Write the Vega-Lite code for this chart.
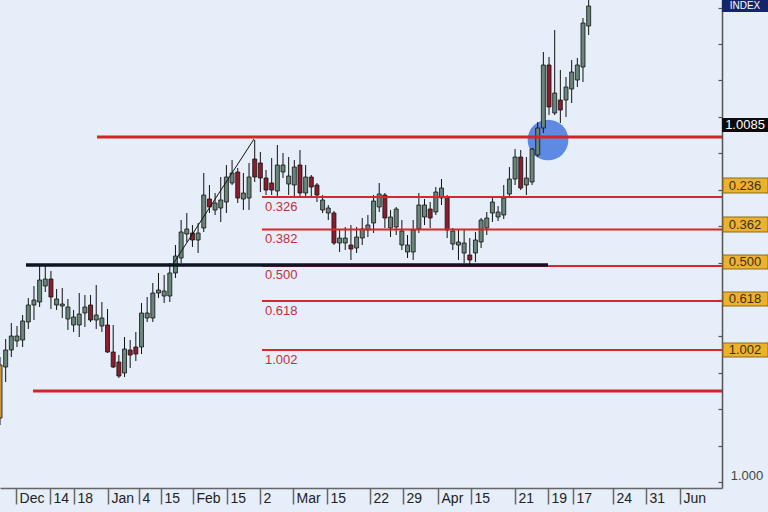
{
"$schema": "https://vega.github.io/schema/vega-lite/v6.json",
"width": 722, "height": 488,
"autosize": {"type": "none"},
"padding": {"left": 0, "top": 0, "right": 46, "bottom": 24},
"background": "#e6eef9",
"config": {"view": {"stroke": null}, "font": "Liberation Sans",
"axisX": {"tickCount": 60, "labelOverlap": false, "labelBound": false, "labelFlush": false, "labelSeparation": 0, "tickSize": 16, "tickColor": "#666", "tickWidth": 1.5, "domainColor": "#666", "domainWidth": 1.5,
"labelAlign": "left", "labelBaseline": "top", "labelPadding": -13, "labelOffset": 3, "labelFontSize": 14, "labelColor": "#222", "labelFont": "Liberation Sans", "grid": false},
"axisY": {"tickCount": 60, "labels": false, "tickSize": -4, "tickColor": "#555", "tickWidth": 1.2, "domainColor": "#555", "domainWidth": 1.5, "grid": false}},
"datasets": {
"candles": [
{"i":0,"o":1.002875,"h":1.003075,"l":1.001375,"c":1.001550,"d":"mark"},
{"i":1,"o":1.002825,"h":1.003525,"l":1.002450,"c":1.003250,"d":"up"},
{"i":2,"o":1.003250,"h":1.003925,"l":1.003075,"c":1.003600,"d":"up"},
{"i":3,"o":1.003475,"h":1.003850,"l":1.003325,"c":1.003600,"d":"up"},
{"i":4,"o":1.003500,"h":1.004125,"l":1.003325,"c":1.003975,"d":"up"},
{"i":5,"o":1.003950,"h":1.004550,"l":1.003775,"c":1.004375,"d":"up"},
{"i":6,"o":1.004375,"h":1.004850,"l":1.004000,"c":1.004500,"d":"up"},
{"i":7,"o":1.004450,"h":1.005375,"l":1.004325,"c":1.005000,"d":"up"},
{"i":8,"o":1.004850,"h":1.005375,"l":1.004700,"c":1.005025,"d":"up"},
{"i":9,"o":1.005025,"h":1.005225,"l":1.004275,"c":1.004575,"d":"down"},
{"i":10,"o":1.004375,"h":1.004775,"l":1.004250,"c":1.004525,"d":"up"},
{"i":11,"o":1.004350,"h":1.004800,"l":1.004050,"c":1.004400,"d":"up"},
{"i":12,"o":1.004025,"h":1.004525,"l":1.003750,"c":1.004325,"d":"up"},
{"i":13,"o":1.003875,"h":1.004250,"l":1.003700,"c":1.004075,"d":"up"},
{"i":14,"o":1.003875,"h":1.004675,"l":1.003575,"c":1.004150,"d":"up"},
{"i":15,"o":1.004175,"h":1.004625,"l":1.003825,"c":1.004325,"d":"up"},
{"i":16,"o":1.004375,"h":1.004625,"l":1.003950,"c":1.004000,"d":"down"},
{"i":17,"o":1.004000,"h":1.004875,"l":1.003775,"c":1.004125,"d":"up"},
{"i":18,"o":1.003850,"h":1.004450,"l":1.003700,"c":1.004050,"d":"up"},
{"i":19,"o":1.003875,"h":1.004275,"l":1.003175,"c":1.003200,"d":"down"},
{"i":20,"o":1.003200,"h":1.003875,"l":1.002800,"c":1.002825,"d":"down"},
{"i":21,"o":1.002950,"h":1.003125,"l":1.002550,"c":1.002600,"d":"down"},
{"i":22,"o":1.002675,"h":1.003575,"l":1.002575,"c":1.003275,"d":"up"},
{"i":23,"o":1.003250,"h":1.003500,"l":1.002800,"c":1.003125,"d":"down"},
{"i":24,"o":1.003325,"h":1.003700,"l":1.002975,"c":1.003150,"d":"down"},
{"i":25,"o":1.003325,"h":1.004425,"l":1.003150,"c":1.004175,"d":"up"},
{"i":26,"o":1.004050,"h":1.004575,"l":1.003950,"c":1.004175,"d":"up"},
{"i":27,"o":1.004050,"h":1.004925,"l":1.003950,"c":1.004675,"d":"up"},
{"i":28,"o":1.004675,"h":1.005175,"l":1.004550,"c":1.004750,"d":"up"},
{"i":29,"o":1.004600,"h":1.005125,"l":1.004425,"c":1.004725,"d":"up"},
{"i":30,"o":1.004600,"h":1.005425,"l":1.004450,"c":1.005175,"d":"up"},
{"i":31,"o":1.005175,"h":1.005875,"l":1.005050,"c":1.005600,"d":"up"},
{"i":32,"o":1.005550,"h":1.006500,"l":1.005425,"c":1.006200,"d":"up"},
{"i":33,"o":1.006150,"h":1.006675,"l":1.005950,"c":1.006275,"d":"up"},
{"i":34,"o":1.006175,"h":1.006375,"l":1.005825,"c":1.006000,"d":"down"},
{"i":35,"o":1.006000,"h":1.006425,"l":1.005675,"c":1.006175,"d":"up"},
{"i":36,"o":1.006300,"h":1.007675,"l":1.006200,"c":1.007125,"d":"up"},
{"i":37,"o":1.007025,"h":1.007375,"l":1.006675,"c":1.006825,"d":"down"},
{"i":38,"o":1.006750,"h":1.007175,"l":1.006625,"c":1.006925,"d":"up"},
{"i":39,"o":1.006800,"h":1.007575,"l":1.006450,"c":1.007000,"d":"up"},
{"i":40,"o":1.006950,"h":1.007875,"l":1.006675,"c":1.007575,"d":"up"},
{"i":41,"o":1.007425,"h":1.008000,"l":1.007375,"c":1.007675,"d":"up"},
{"i":42,"o":1.007700,"h":1.007800,"l":1.006925,"c":1.007050,"d":"down"},
{"i":43,"o":1.007025,"h":1.007675,"l":1.006750,"c":1.007175,"d":"up"},
{"i":44,"o":1.007050,"h":1.007925,"l":1.006750,"c":1.007575,"d":"up"},
{"i":45,"o":1.008025,"h":1.008500,"l":1.007450,"c":1.007575,"d":"down"},
{"i":46,"o":1.007925,"h":1.008200,"l":1.007200,"c":1.007550,"d":"down"},
{"i":47,"o":1.007550,"h":1.007750,"l":1.007125,"c":1.007250,"d":"down"},
{"i":48,"o":1.007425,"h":1.008050,"l":1.007125,"c":1.007250,"d":"down"},
{"i":49,"o":1.007225,"h":1.008375,"l":1.007075,"c":1.007875,"d":"up"},
{"i":50,"o":1.007700,"h":1.008175,"l":1.007550,"c":1.007875,"d":"up"},
{"i":51,"o":1.007400,"h":1.008075,"l":1.007125,"c":1.007600,"d":"up"},
{"i":52,"o":1.007375,"h":1.008000,"l":1.007075,"c":1.007825,"d":"up"},
{"i":53,"o":1.007875,"h":1.008250,"l":1.007075,"c":1.007175,"d":"down"},
{"i":54,"o":1.007175,"h":1.007875,"l":1.007050,"c":1.007575,"d":"up"},
{"i":55,"o":1.007575,"h":1.007625,"l":1.007050,"c":1.007325,"d":"down"},
{"i":56,"o":1.007375,"h":1.007425,"l":1.006950,"c":1.007125,"d":"down"},
{"i":57,"o":1.006750,"h":1.007125,"l":1.006675,"c":1.007000,"d":"up"},
{"i":58,"o":1.006675,"h":1.006875,"l":1.006500,"c":1.006800,"d":"up"},
{"i":59,"o":1.006675,"h":1.006725,"l":1.005875,"c":1.005925,"d":"down"},
{"i":60,"o":1.005925,"h":1.006250,"l":1.005700,"c":1.006050,"d":"up"},
{"i":61,"o":1.005925,"h":1.006325,"l":1.005750,"c":1.006050,"d":"up"},
{"i":62,"o":1.005875,"h":1.006375,"l":1.005500,"c":1.005775,"d":"down"},
{"i":63,"o":1.005800,"h":1.006325,"l":1.005675,"c":1.006075,"d":"up"},
{"i":64,"o":1.006050,"h":1.006550,"l":1.005875,"c":1.006275,"d":"up"},
{"i":65,"o":1.006250,"h":1.006625,"l":1.006075,"c":1.006375,"d":"up"},
{"i":66,"o":1.006425,"h":1.007125,"l":1.006175,"c":1.006975,"d":"up"},
{"i":67,"o":1.006825,"h":1.007425,"l":1.006700,"c":1.007150,"d":"up"},
{"i":68,"o":1.007125,"h":1.007175,"l":1.006300,"c":1.006550,"d":"down"},
{"i":69,"o":1.006300,"h":1.006750,"l":1.006075,"c":1.006575,"d":"up"},
{"i":70,"o":1.006325,"h":1.006825,"l":1.006125,"c":1.006775,"d":"up"},
{"i":71,"o":1.005875,"h":1.006500,"l":1.005750,"c":1.006225,"d":"up"},
{"i":72,"o":1.005700,"h":1.006125,"l":1.005550,"c":1.005875,"d":"up"},
{"i":73,"o":1.005700,"h":1.006500,"l":1.005500,"c":1.006250,"d":"up"},
{"i":74,"o":1.006275,"h":1.007175,"l":1.006175,"c":1.006875,"d":"up"},
{"i":75,"o":1.006575,"h":1.007025,"l":1.006375,"c":1.006875,"d":"up"},
{"i":76,"o":1.006775,"h":1.006950,"l":1.006300,"c":1.006550,"d":"down"},
{"i":77,"o":1.006700,"h":1.007325,"l":1.006625,"c":1.007200,"d":"up"},
{"i":78,"o":1.007050,"h":1.007525,"l":1.006875,"c":1.007300,"d":"up"},
{"i":79,"o":1.007075,"h":1.007125,"l":1.006050,"c":1.006250,"d":"down"},
{"i":80,"o":1.005900,"h":1.006300,"l":1.005750,"c":1.006225,"d":"up"},
{"i":81,"o":1.005875,"h":1.006250,"l":1.005500,"c":1.005950,"d":"up"},
{"i":82,"o":1.005675,"h":1.006250,"l":1.005425,"c":1.005925,"d":"up"},
{"i":83,"o":1.005625,"h":1.006050,"l":1.005325,"c":1.005500,"d":"down"},
{"i":84,"o":1.005675,"h":1.006200,"l":1.005450,"c":1.006000,"d":"up"},
{"i":85,"o":1.005950,"h":1.006550,"l":1.005800,"c":1.006500,"d":"up"},
{"i":86,"o":1.006300,"h":1.006700,"l":1.006125,"c":1.006550,"d":"up"},
{"i":87,"o":1.006675,"h":1.007050,"l":1.006450,"c":1.006950,"d":"up"},
{"i":88,"o":1.006575,"h":1.006850,"l":1.006475,"c":1.006700,"d":"up"},
{"i":89,"o":1.006625,"h":1.007375,"l":1.006525,"c":1.007050,"d":"up"},
{"i":90,"o":1.007150,"h":1.007825,"l":1.007075,"c":1.007525,"d":"up"},
{"i":91,"o":1.007525,"h":1.008275,"l":1.007375,"c":1.008075,"d":"up"},
{"i":92,"o":1.008075,"h":1.008250,"l":1.007250,"c":1.007300,"d":"down"},
{"i":93,"o":1.007375,"h":1.008075,"l":1.007125,"c":1.007550,"d":"up"},
{"i":94,"o":1.007450,"h":1.008300,"l":1.007375,"c":1.008275,"d":"up"},
{"i":95,"o":1.008125,"h":1.008950,"l":1.008075,"c":1.008800,"d":"up"},
{"i":96,"o":1.008800,"h":1.010700,"l":1.008675,"c":1.010375,"d":"up"},
{"i":97,"o":1.010375,"h":1.010575,"l":1.009125,"c":1.009325,"d":"down"},
{"i":98,"o":1.009175,"h":1.011250,"l":1.009125,"c":1.009675,"d":"up"},
{"i":99,"o":1.009500,"h":1.010250,"l":1.008925,"c":1.009250,"d":"down"},
{"i":100,"o":1.009500,"h":1.010075,"l":1.009075,"c":1.009825,"d":"up"},
{"i":101,"o":1.009775,"h":1.010500,"l":1.009425,"c":1.010200,"d":"up"},
{"i":102,"o":1.010000,"h":1.010550,"l":1.009825,"c":1.010375,"d":"up"},
{"i":103,"o":1.010325,"h":1.011550,"l":1.009950,"c":1.011425,"d":"up"},
{"i":104,"o":1.011350,"h":1.012000,"l":1.011125,"c":1.011850,"d":"up"}
],
"thickRed": [
{"i":17.14,"i2":127.56,"p":1.008575},
{"i":5.83,"i2":127.56,"p":1.002225}
],
"fibLines": [
{"i":46.29,"i2":127.56,"p":1.007075},
{"i":46.29,"i2":127.56,"p":1.0062625},
{"i":46.29,"i2":127.56,"p":1.005350},
{"i":46.29,"i2":127.56,"p":1.004475},
{"i":46.29,"i2":127.56,"p":1.003250}
],
"blackLine": [{"i":4.59,"i2":96.82,"p":1.005375}],
"trend": [{"i":30.57,"i2":44.88,"p":1.005400,"p2":1.008525}],
"circle": [{"i":96.82,"p":1.0085}],
"fibText": [
{"i":46.82,"p":1.006825,"t":"0.326"},
{"i":46.82,"p":1.006025,"t":"0.382"},
{"i":46.82,"p":1.005125,"t":"0.500"},
{"i":46.82,"p":1.004225,"t":"0.618"},
{"i":46.82,"p":1.003000,"t":"1.002"}
],
"goldBoxes": [
{"i":127.74,"i2":135.69,"p":1.007550,"p2":1.007175,"pt":1.0073625,"t":"0.236"},
{"i":127.74,"i2":135.69,"p":1.006575,"p2":1.006200,"pt":1.0063875,"t":"0.362"},
{"i":127.74,"i2":135.69,"p":1.005625,"p2":1.005275,"pt":1.005450,"t":"0.500"},
{"i":127.74,"i2":135.69,"p":1.004700,"p2":1.004350,"pt":1.004525,"t":"0.618"},
{"i":127.74,"i2":135.69,"p":1.003425,"p2":1.003075,"pt":1.003250,"t":"1.002"}
],
"priceBox": [{"i":127.56,"i2":135.69,"p":1.009050,"p2":1.008700,"pt":1.008875,"t":"1.0085"}],
"indexBox": [{"i":127.56,"i2":135.69,"p":1.012000,"p2":1.011700,"pt":1.011850,"t":"INDEX"}],
"baseText": [{"i":131.98,"p":1.000100,"t":"1.000"}]
},
"layer": [
{
"data": {"name": "circle"},
"mark": {"type": "point", "filled": true, "size": 1660, "color": "#4f7ee0", "opacity": 0.9},
"encoding": {
"x": {"field": "i", "type": "quantitative", "title": null, "scale": {"domain": [0, 127.56], "nice": false, "zero": false, "padding": 0},
"axis": {"values": [2.83,8.83,13.07,19.08,24.56,28.45,34.1,40.1,45.94,51.77,57.77,65.37,71.2,77.39,83.22,91,96.82,101.24,108.3,114.13,120.14],
"tickCount": 60,
"labelExpr": "['Dec','14','18','Jan','4','15','Feb','15','2','Mar','15','22','29','Apr','15','21','19','17','24','31','Jun'][indexof([2.83,8.83,13.07,19.08,24.56,28.45,34.1,40.1,45.94,51.77,57.77,65.37,71.2,77.39,83.22,91,96.82,101.24,108.3,114.13,120.14], datum.value)]",
"labelOverlap": false, "title": null}},
"y": {"field": "p", "type": "quantitative", "title": null, "scale": {"domain": [0.9998, 1.012], "nice": false, "zero": false, "padding": 0},
"axis": {"orient": "right", "tickCount": 60, "values": [1.0118125,1.0109,1.0099875,1.009075,1.0081625,1.00725,1.0063375,1.005425,1.0045125,1.0036,1.0026875,1.001775,1.0008625,0.99995], "title": null}}
}
},
{
"data": {"name": "candles"},
"mark": {"type": "rule", "color": "#111", "strokeWidth": 1},
"encoding": {
"x": {"field": "i", "type": "quantitative", "title": null},
"y": {"field": "h", "type": "quantitative", "title": null},
"y2": {"field": "l"}
}
},
{
"data": {"name": "candles"},
"mark": {"type": "bar", "size": 4, "stroke": "#111", "strokeWidth": 0.8},
"encoding": {
"x": {"field": "i", "type": "quantitative", "title": null},
"y": {"field": "o", "type": "quantitative", "title": null},
"y2": {"field": "c"},
"color": {"field": "d", "type": "nominal", "legend": null,
"scale": {"domain": ["up", "down", "mark"], "range": ["#6a857a", "#8b1e2e", "#c9973f"]}}
}
},
{
"data": {"name": "fibLines"},
"mark": {"type": "rule", "color": "#d8262a", "strokeWidth": 2},
"encoding": {
"x": {"field": "i", "type": "quantitative", "title": null},
"x2": {"field": "i2"},
"y": {"field": "p", "type": "quantitative", "title": null}
}
},
{
"data": {"name": "thickRed"},
"mark": {"type": "rule", "color": "#d42424", "strokeWidth": 3},
"encoding": {
"x": {"field": "i", "type": "quantitative", "title": null},
"x2": {"field": "i2"},
"y": {"field": "p", "type": "quantitative", "title": null}
}
},
{
"data": {"name": "blackLine"},
"mark": {"type": "rule", "color": "#0d1525", "strokeWidth": 3.5},
"encoding": {
"x": {"field": "i", "type": "quantitative", "title": null},
"x2": {"field": "i2"},
"y": {"field": "p", "type": "quantitative", "title": null}
}
},
{
"data": {"name": "trend"},
"mark": {"type": "rule", "color": "#111", "strokeWidth": 1},
"encoding": {
"x": {"field": "i", "type": "quantitative", "title": null},
"x2": {"field": "i2"},
"y": {"field": "p", "type": "quantitative", "title": null},
"y2": {"field": "p2"}
}
},
{
"data": {"name": "fibText"},
"mark": {"type": "text", "align": "left", "baseline": "middle", "fontSize": 13, "color": "#c0303a", "font": "Liberation Sans"},
"encoding": {
"x": {"field": "i", "type": "quantitative", "title": null},
"y": {"field": "p", "type": "quantitative", "title": null},
"text": {"field": "t"}
}
},
{
"data": {"name": "goldBoxes"},
"mark": {"type": "rect", "fill": "#ecb22e", "stroke": "#8a6a1a", "strokeWidth": 1},
"encoding": {
"x": {"field": "i", "type": "quantitative", "title": null},
"x2": {"field": "i2"},
"y": {"field": "p", "type": "quantitative", "title": null},
"y2": {"field": "p2"}
}
},
{
"data": {"name": "goldBoxes"},
"mark": {"type": "text", "align": "center", "baseline": "middle", "fontSize": 13, "color": "#3a3020", "font": "Liberation Sans", "dx": 22},
"encoding": {
"x": {"field": "i", "type": "quantitative", "title": null},
"y": {"field": "pt", "type": "quantitative", "title": null},
"text": {"field": "t"}
}
},
{
"data": {"name": "priceBox"},
"mark": {"type": "rect", "fill": "#0c0c0c"},
"encoding": {
"x": {"field": "i", "type": "quantitative", "title": null},
"x2": {"field": "i2"},
"y": {"field": "p", "type": "quantitative", "title": null},
"y2": {"field": "p2"}
}
},
{
"data": {"name": "priceBox"},
"mark": {"type": "text", "align": "center", "baseline": "middle", "fontSize": 13, "color": "#ffffff", "font": "Liberation Sans", "dx": 23},
"encoding": {
"x": {"field": "i", "type": "quantitative", "title": null},
"y": {"field": "pt", "type": "quantitative", "title": null},
"text": {"field": "t"}
}
},
{
"data": {"name": "indexBox"},
"mark": {"type": "rect", "fill": "#16256a"},
"encoding": {
"x": {"field": "i", "type": "quantitative", "title": null},
"x2": {"field": "i2"},
"y": {"field": "p", "type": "quantitative", "title": null},
"y2": {"field": "p2"}
}
},
{
"data": {"name": "indexBox"},
"mark": {"type": "text", "align": "center", "baseline": "middle", "fontSize": 10, "color": "#ffffff", "font": "Liberation Sans", "dx": 23},
"encoding": {
"x": {"field": "i", "type": "quantitative", "title": null},
"y": {"field": "pt", "type": "quantitative", "title": null},
"text": {"field": "t"}
}
},
{
"data": {"name": "baseText"},
"mark": {"type": "text", "align": "center", "baseline": "middle", "fontSize": 13, "color": "#444", "font": "Liberation Sans"},
"encoding": {
"x": {"field": "i", "type": "quantitative", "title": null},
"y": {"field": "p", "type": "quantitative", "title": null},
"text": {"field": "t"}
}
}
]
}
